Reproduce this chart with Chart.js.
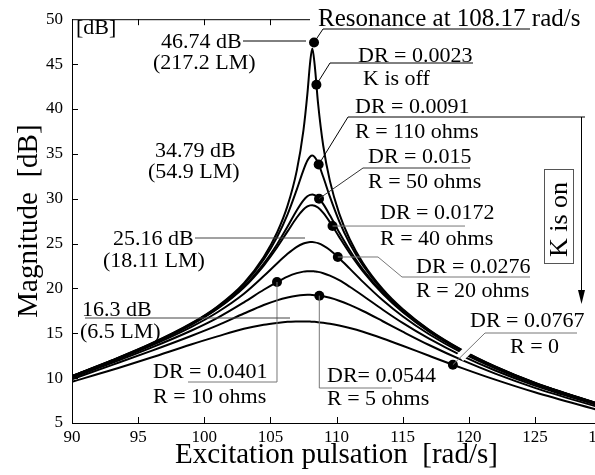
<!DOCTYPE html>
<html>
<head>
<meta charset="utf-8">
<script src="https://cdn.jsdelivr.net/npm/chart.js@4.4.1/dist/chart.umd.min.js"></script>
<style>
  html, body { margin: 0; padding: 0; background: #fff; overflow: hidden; }
  #wrap { width: 620px; height: 475px; }
</style>
</head>
<body>
<div id="wrap"><canvas id="resChart" width="620" height="475"></canvas></div>
<script>
// excitation pulsation [rad/s]
const pulsation = [90, 93, 96, 99, 101, 103, 104.5, 105.5, 106.3, 107, 107.5, 107.8, 108, 108.17,
  108.35, 108.6, 109, 109.5, 110.2, 111, 112, 113.5, 115, 117, 119.5, 122, 125, 130];

// magnitude [dB] for each damping ratio
const magDR0023 = [10.24, 11.97, 13.86, 16.09, 17.99, 20.59, 23.50, 26.20, 29.22, 33.15, 37.61, 41.70, 45.09, 46.74,
  44.91, 40.71, 35.87, 31.98, 28.36, 25.48, 22.83, 19.91, 17.70, 15.39, 13.13, 11.31, 9.49, 7.04];
const magDR0091 = [10.23, 11.96, 13.83, 16.04, 17.92, 20.45, 23.23, 25.70, 28.25, 31.04, 33.19, 34.25, 34.68, 34.80,
  34.64, 34.01, 32.41, 30.22, 27.50, 25.00, 22.56, 19.76, 17.61, 15.34, 13.10, 11.28, 9.47, 7.03];
const magDR015 = [10.21, 11.93, 13.79, 15.97, 17.79, 20.21, 22.77, 24.90, 26.89, 28.72, 29.82, 30.27, 30.42, 30.46,
  30.39, 30.13, 29.39, 28.14, 26.25, 24.25, 22.10, 19.51, 17.45, 15.24, 13.04, 11.24, 9.44, 7.02];
const magDR0172 = [10.20, 11.92, 13.77, 15.93, 17.73, 20.10, 22.55, 24.56, 26.35, 27.90, 28.79, 29.13, 29.25, 29.27,
  29.21, 29.01, 28.42, 27.39, 25.74, 23.92, 21.90, 19.39, 17.37, 15.19, 13.01, 11.22, 9.43, 7.01];
const magDR0276 = [10.14, 11.83, 13.63, 15.69, 17.34, 19.40, 21.37, 22.78, 23.85, 24.63, 25.00, 25.12, 25.16, 25.16,
  25.13, 25.04, 24.77, 24.28, 23.37, 22.20, 20.73, 18.68, 16.90, 14.89, 12.81, 11.09, 9.33, 6.95];
const magDR0401 = [10.04, 11.68, 13.40, 15.28, 16.72, 18.45, 19.85, 20.71, 21.32, 21.70, 21.87, 21.91, 21.92, 21.92,
  21.89, 21.84, 21.69, 21.42, 20.91, 20.18, 19.18, 17.62, 16.15, 14.39, 12.48, 10.85, 9.17, 6.85];
const magDR0544 = [9.88, 11.45, 13.04, 14.70, 15.88, 17.20, 18.15, 18.67, 18.99, 19.19, 19.27, 19.28, 19.28, 19.27,
  19.25, 19.21, 19.12, 18.95, 18.63, 18.16, 17.48, 16.34, 15.18, 13.69, 12.00, 10.50, 8.92, 6.68];
const magDR0767 = [9.60, 10.90, 12.30, 13.75, 14.65, 15.50, 15.95, 16.15, 16.27, 16.31, 16.32, 16.31, 16.30, 16.28,
  16.27, 16.24, 16.17, 16.07, 15.87, 15.59, 15.17, 14.42, 13.61, 12.49, 11.12, 9.83, 8.42, 6.36];

const curves = [magDR0023, magDR0091, magDR015, magDR0172, magDR0276, magDR0401, magDR0544, magDR0767];

// marked points: resonance, K off, 0.0091, 0.015, 0.0172, 0.0276, 0.0401, 0.0544, 0.0767
const dotX = [108.3, 108.48, 108.65, 108.68, 109.7, 110.1, 105.5, 108.7, 118.8];
const dotY = [47.4, 42.7, 33.8, 30.0, 26.95, 23.5, 20.72, 19.19, 11.5];

const serif = "'Liberation Serif', 'Times New Roman', serif";

// text labels (canvas px, left aligned, alphabetic baseline)
const labels = [
  ['Resonance at 108.17 rad/s', 318, 26, 25],
  ['46.74 dB', 161, 48, 22],
  ['(217.2 LM)', 153, 69, 22],
  ['DR = 0.0023', 358, 62, 22],
  ['K is off', 363, 85, 22],
  ['DR = 0.0091', 355, 113, 22],
  ['R = 110 ohms', 355, 138, 22],
  ['34.79 dB', 155, 157, 22],
  ['(54.9 LM)', 148, 178, 22],
  ['DR = 0.015', 368, 163, 22],
  ['R = 50 ohms', 368, 188, 22],
  ['DR = 0.0172', 380, 219, 22],
  ['R = 40 ohms', 380, 245, 22],
  ['25.16 dB', 113, 245, 22],
  ['(18.11 LM)', 103, 267, 22],
  ['DR = 0.0276', 416, 273, 22],
  ['R = 20 ohms', 416, 297, 22],
  ['16.3 dB', 82, 316, 22],
  ['(6.5 LM)', 80, 338, 22],
  ['DR = 0.0767', 470, 327, 22],
  ['R = 0', 510, 353, 22],
  ['DR= 0.0544', 327, 382, 22],
  ['R = 5 ohms', 327, 405, 22],
  ['DR = 0.0401', 153, 378, 22],
  ['R = 10 ohms', 153, 403, 22],
  ['[dB]', 76, 34, 22]
];

// leader lines: start at a dot (index) or at the first point; null copies previous coord
const leaders = [
  { dot: 0, pts: [[323, 29], [530, 29]], color: '#000' },
  { dot: null, pts: [[243, 41], [306, 41]], color: '#000' },
  { dot: 1, pts: [[330, 63], [473, 63]], color: '#000' },
  { dot: 2, pts: [[348, 117], [585, 117]], color: '#000' },
  { dot: 3, pts: [[363, 168], [470, 168]], color: '#333' },
  { dot: 4, pts: [[465, null]], color: '#777' },
  { dot: 5, pts: [[378, null], [402, 277], [530, 277]], color: '#777' },
  { dot: 8, pts: [[485, 333], [577, 333]], color: '#777', halo: true },
  { dot: 7, pts: [[null, 388], [392, 388]], color: '#777' },
  { dot: 6, pts: [[null, 382], [188, 382]], color: '#777' },
  { dot: null, pts: [[195, 238], [305, 238]], color: '#444' },
  { dot: null, pts: [[85, 318], [290, 318]], color: '#444' }
];

const annotate = {
  id: 'annotate',
  afterDraw(chart) {
    const ctx = chart.ctx;
    const { left, right, top, bottom } = chart.chartArea;
    const xs = chart.scales.x, ys = chart.scales.y;
    ctx.save();

    // frame top + inward ticks
    ctx.strokeStyle = '#000';
    ctx.lineWidth = 1;
    ctx.beginPath();
    ctx.moveTo(left, top + 0.5); ctx.lineTo(right, top + 0.5);
    xs.ticks.forEach(t => {
      const px = Math.round(xs.getPixelForValue(t.value)) + 0.5;
      if (t.value <= 90 || t.value >= 130) return;
      ctx.moveTo(px, bottom); ctx.lineTo(px, bottom - 6);
      ctx.moveTo(px, top); ctx.lineTo(px, top + 6);
    });
    ys.ticks.forEach(t => {
      if (t.value <= 5 || t.value >= 50) return;
      const py = Math.round(ys.getPixelForValue(t.value)) + 0.5;
      ctx.moveTo(left, py); ctx.lineTo(left + 6, py);
    });
    ctx.stroke();

    // white box behind the resonance title
    ctx.fillStyle = '#fff';
    ctx.fillRect(310, 0, 300, 27);

    const dotPx = i => [xs.getPixelForValue(dotX[i]), ys.getPixelForValue(dotY[i])];

    leaders.forEach(l => {
      const pts = [];
      if (l.dot !== null) pts.push(dotPx(l.dot));
      l.pts.forEach(p => {
        const prev = pts[pts.length - 1];
        pts.push([p[0] === null ? prev[0] : p[0], p[1] === null ? prev[1] : p[1]]);
      });
      if (l.halo) {
        const a = pts[0], b = pts[1];
        ctx.strokeStyle = '#fff';
        ctx.lineWidth = 9;
        ctx.beginPath();
        ctx.moveTo(a[0] + (b[0] - a[0]) * 0.22, a[1] + (b[1] - a[1]) * 0.22);
        ctx.lineTo(b[0], b[1]);
        ctx.stroke();
      }
      ctx.strokeStyle = l.color;
      ctx.lineWidth = 1;
      ctx.beginPath();
      pts.forEach((p, k) => k ? ctx.lineTo(p[0], p[1]) : ctx.moveTo(p[0], p[1]));
      ctx.stroke();
    });

    // texts
    ctx.fillStyle = '#000';
    ctx.textAlign = 'left';
    ctx.textBaseline = 'alphabetic';
    labels.forEach(([t, x, y, s]) => {
      ctx.font = s + 'px ' + serif;
      ctx.fillText(t, x, y);
    });

    // "K is on" box and arrow
    ctx.strokeStyle = '#555';
    ctx.lineWidth = 1;
    ctx.strokeRect(544.5, 169.5, 29, 94);
    ctx.save();
    ctx.translate(567, 257);
    ctx.rotate(-Math.PI / 2);
    ctx.font = '26px ' + serif;
    ctx.fillText('K is on', 0, 0);
    ctx.restore();
    ctx.strokeStyle = '#000';
    ctx.beginPath();
    ctx.moveTo(581.5, 117); ctx.lineTo(581.5, 292);
    ctx.stroke();
    ctx.beginPath();
    ctx.moveTo(578, 290); ctx.lineTo(585, 290); ctx.lineTo(581.5, 304);
    ctx.closePath();
    ctx.fill();

    ctx.restore();
  }
};

const datasets = curves.map(c => ({
  data: pulsation.map((x, i) => ({ x: x, y: c[i] })),
  borderColor: '#000',
  borderWidth: 2,
  pointRadius: 0,
  cubicInterpolationMode: 'monotone',
  fill: false
}));
datasets.push({
  data: dotX.map((x, i) => ({ x: x, y: dotY[i] })),
  showLine: false,
  pointRadius: 5,
  pointBackgroundColor: '#000',
  pointBorderColor: '#000',
  pointBorderWidth: 0
});

new Chart(document.getElementById('resChart').getContext('2d'), {
  type: 'line',
  data: { datasets: datasets },
  plugins: [annotate],
  options: {
    responsive: false,
    animation: false,
    layout: { padding: { left: 0, right: 19, top: 13, bottom: 0 } },
    plugins: { legend: { display: false }, tooltip: { enabled: false } },
    scales: {
      x: {
        type: 'linear',
        min: 90,
        max: 130,
        grid: { display: false, drawTicks: false },
        border: { display: true, color: '#000', width: 1 },
        ticks: { stepSize: 5, autoSkip: false, maxRotation: 0, color: '#000', padding: 4,
                 font: { family: serif, size: 17 } },
        title: { display: true, text: 'Excitation pulsation  [rad/s]', color: '#000',
                 font: { family: serif, size: 29 }, padding: { top: 0, bottom: 2 } },
        afterFit: s => { s.height = 52; }
      },
      y: {
        min: 5,
        max: 50,
        grid: { display: false, drawTicks: false },
        border: { display: true, color: '#000', width: 1 },
        ticks: { stepSize: 5, color: '#000', padding: 9, font: { family: serif, size: 17 } },
        title: { display: true, text: 'Magnitude  [dB]', color: '#000',
                 font: { family: serif, size: 29 }, padding: { top: 12, bottom: 0 } },
        afterFit: s => { s.width = 72; }
      }
    }
  }
});
</script>
</body>
</html>
